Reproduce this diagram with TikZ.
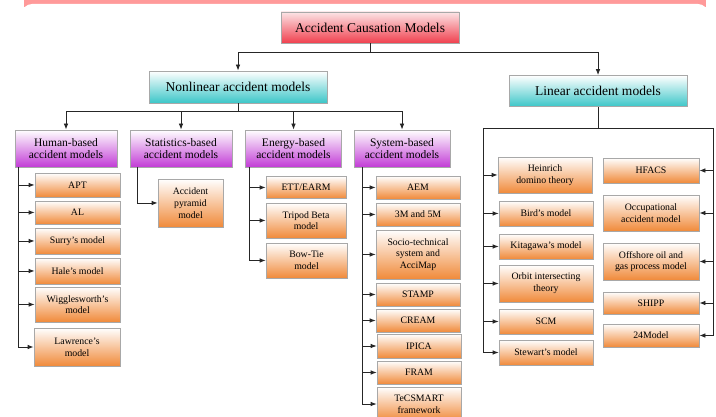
\documentclass[tikz,border=0pt]{standalone}
\usepackage{fontspec}
\setmainfont{Liberation Serif}
\usetikzlibrary{arrows.meta}
\definecolor{framec}{HTML}{FF9A9A}
\definecolor{redb}{HTML}{F0404E}
\definecolor{redt}{HTML}{FCE4E6}
\definecolor{cyanb}{HTML}{3CC6C8}
\definecolor{purb}{HTML}{C23CD6}
\definecolor{orab}{HTML}{F08A3A}
\definecolor{bord}{HTML}{A8A8A8}
\tikzset{
 box/.style={draw=bord, line width=0.8pt, inner sep=1pt, align=center, text=black},
 topbox/.style={box, top color=redt, bottom color=redb, font=\fontsize{13.5}{15}\selectfont},
 mainbox/.style={box, top color=white, bottom color=cyanb, font=\fontsize{13.5}{15}\selectfont},
 catbox/.style={box, top color=white, bottom color=purb, font=\fontsize{11.5}{12.7}\selectfont},
 itembox/.style={box, top color=white, bottom color=orab, font=\fontsize{9.8}{11.7}\selectfont},
 conn/.style={draw=black!85, line width=0.8pt},
 arr/.style={conn, -{Latex[length=6pt,width=4.6pt]}},
}
\begin{document}
\begin{tikzpicture}[x=1pt,y=-1pt]
\useasboundingbox (0,0) rectangle (716,417);
\clip (0,0) rectangle (716,417);
% frame
\fill[framec] (24,0) rectangle (706,7);
\fill[white,rounded corners=10pt] (22,4) rectangle (708,440);

% top levels
\node[topbox, minimum width=178, minimum height=31] (top) at (370,27.5) {Accident Causation Models};
\node[mainbox, minimum width=178, minimum height=32] (nonlin) at (238,87) {Nonlinear accident models};
\node[mainbox, minimum width=178, minimum height=31] (lin) at (598,91) {Linear accident models};

% categories
\node[catbox, minimum width=102, minimum height=37] (human) at (66,148.5) {Human-based\\accident models};
\node[catbox, minimum width=102, minimum height=37] (stat) at (181,148.5) {Statistics-based\\accident models};
\node[catbox, minimum width=96, minimum height=37] (energy) at (293.5,148.5) {Energy-based\\accident models};
\node[catbox, minimum width=96, minimum height=37] (system) at (402,148.5) {System-based\\accident models};

% human items
\node[itembox, minimum width=85, minimum height=24] (apt) at (77.5,185) {APT};
\node[itembox, minimum width=85, minimum height=23] (al) at (77.5,212.5) {AL};
\node[itembox, minimum width=85, minimum height=26] (surry) at (77.5,241) {Surry’s model};
\node[itembox, minimum width=85, minimum height=26] (hale) at (77.5,271) {Hale’s model};
\node[itembox, minimum width=85, minimum height=35] (wig) at (77.5,304.5) {Wigglesworth’s\\model};
\node[itembox, minimum width=86, minimum height=38] (law) at (77,347) {Lawrence’s\\model};

% statistics item
\node[itembox, minimum width=65, minimum height=48] (pyr) at (190.5,203) {Accident\\pyramid\\model};

% energy items
\node[itembox, minimum width=80, minimum height=22] (ett) at (306,187.5) {ETT/EARM};
\node[itembox, minimum width=80, minimum height=35] (tripod) at (306,220.5) {Tripod Beta\\model};
\node[itembox, minimum width=81, minimum height=35] (bow) at (306.5,260.5) {Bow-Tie\\model};

% system items
\node[itembox, minimum width=84, minimum height=23] (aem) at (418,187.5) {AEM};
\node[itembox, minimum width=84, minimum height=23] (mm) at (418,214.5) {3M and 5M};
\node[itembox, minimum width=84, minimum height=49] (socio) at (418,254.5) {Socio-technical\\system and\\AcciMap};
\node[itembox, minimum width=84, minimum height=23] (stamp) at (418,294.5) {STAMP};
\node[itembox, minimum width=84, minimum height=23] (cream) at (418,320.5) {CREAM};
\node[itembox, minimum width=84, minimum height=24] (ipica) at (419,346) {IPICA};
\node[itembox, minimum width=84, minimum height=23] (fram) at (419,372.5) {FRAM};
\node[itembox, minimum width=84, minimum height=34] (tec) at (419,404) {TeCSMART\\framework};

% linear left column
\node[itembox, minimum width=94, minimum height=36] (hein) at (545,175) {Heinrich\\domino theory};
\node[itembox, minimum width=94, minimum height=25] (bird) at (546,213.5) {Bird’s model};
\node[itembox, minimum width=94, minimum height=25] (kita) at (546,246.5) {Kitagawa’s model};
\node[itembox, minimum width=94, minimum height=37] (orbit) at (546,283.5) {Orbit intersecting\\theory};
\node[itembox, minimum width=94, minimum height=25] (scm) at (546,321.5) {SCM};
\node[itembox, minimum width=94, minimum height=25] (stew) at (546,352.5) {Stewart’s model};

% linear right column
\node[itembox, minimum width=96, minimum height=25] (hfacs) at (651,170.5) {HFACS};
\node[itembox, minimum width=96, minimum height=36] (occ) at (651,213) {Occupational\\accident model};
\node[itembox, minimum width=96, minimum height=37] (off) at (651,261.5) {Offshore oil and\\gas process model};
\node[itembox, minimum width=96, minimum height=22] (shipp) at (651,303) {SHIPP};
\node[itembox, minimum width=96, minimum height=23] (m24) at (651,335.5) {24Model};

% connectors: top
\coordinate (tj) at (370,52);
\draw[conn] (top.south) -- (tj);
\draw[arr] (tj) -| (nonlin.north);
\draw[arr] (tj) -| (lin.north);

% nonlinear
\coordinate (nj) at (238,111);
\draw[conn] (nonlin.south) -- (nj);
\draw[arr] (nj) -| (human.north);
\draw[arr] (nj) -| (stat.north);
\draw[arr] (nj) -| (energy.north);
\draw[arr] (nj) -| (system.north);

% human branch
\coordinate (hv) at (18,167);
\foreach \n in {apt,al,surry,hale,wig}{\draw[arr] (hv |- \n.west) -- (\n.west);}
\draw[arr] (hv) |- (law.west);

% statistics branch
\coordinate (sv) at (137,167);
\draw[arr] (sv) |- (pyr.west);

% energy branch
\coordinate (ev) at (249,167);
\foreach \n in {ett,tripod}{\draw[arr] (ev |- \n.west) -- (\n.west);}
\draw[arr] (ev) |- (bow.west);

% system branch
\coordinate (yv) at (362,167);
\foreach \n in {aem,mm,socio,stamp,cream,ipica,fram}{\draw[arr] (yv |- \n.west) -- (\n.west);}
\draw[arr] (yv) |- (tec.west);

% linear branch
\coordinate (lj) at (598,128);
\coordinate (ll) at (483,128);
\coordinate (lr) at (713,128);
\draw[conn] (lin.south) -- (lj);
\draw[conn] (ll) -- (lr);
\foreach \n in {hein,bird,kita,orbit,scm}{\draw[arr] (ll |- \n.west) -- (\n.west);}
\draw[arr] (ll) |- (stew.west);
\foreach \n in {hfacs,occ,off,shipp}{\draw[arr] (lr |- \n.east) -- (\n.east);}
\draw[arr] (lr) |- (m24.east);
\end{tikzpicture}
\end{document}
